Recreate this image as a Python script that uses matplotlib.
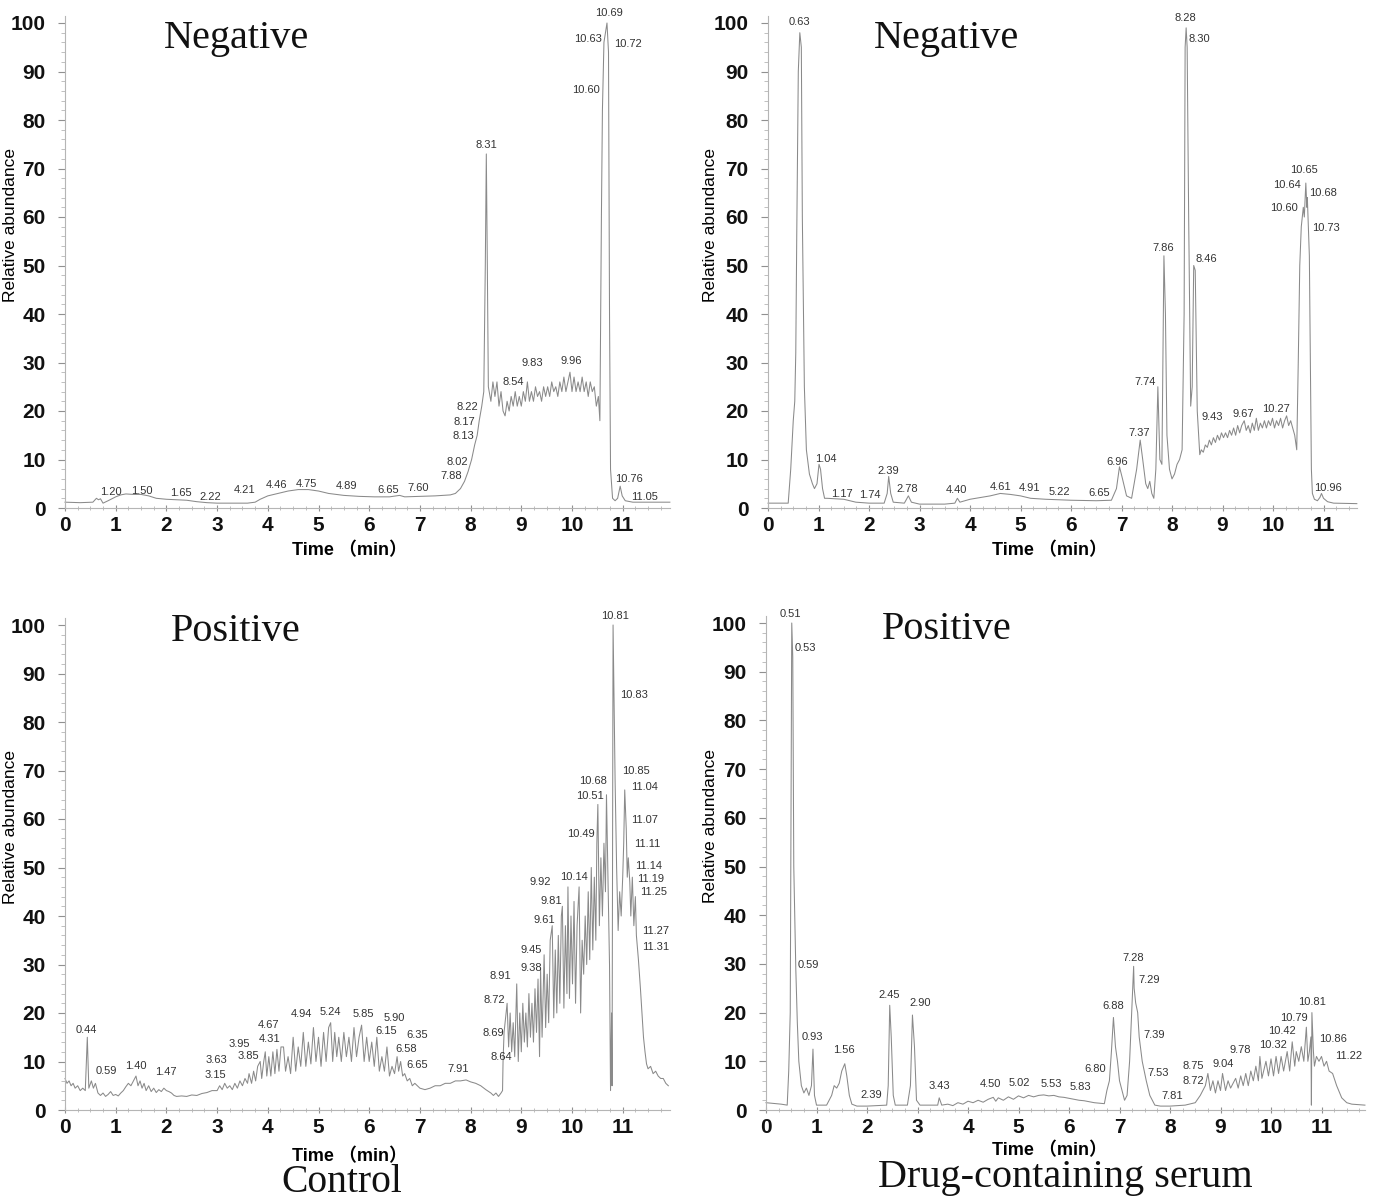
import matplotlib
matplotlib.use("Agg")
import matplotlib.pyplot as plt
from matplotlib.ticker import MultipleLocator
from matplotlib import font_manager

names = {f.name for f in font_manager.fontManager.ttflist}
NARROW = 'Liberation Sans Narrow' if 'Liberation Sans Narrow' in names else 'Liberation Sans'

# ---------------- Data: Control, negative mode ----------------
t_ctl_neg = [0.00, 0.30, 0.55, 0.62, 0.66, 0.70, 0.75, 0.85, 1.00, 1.10, 1.20, 1.35, 1.50, 1.65, 1.80,
             2.00, 2.20, 2.40, 2.60, 2.80, 3.00, 3.30, 3.60, 3.75, 3.85, 4.00, 4.20, 4.40, 4.60, 4.80,
             5.00, 5.20, 5.50, 5.80, 6.10, 6.40, 6.60, 6.70, 7.00, 7.30, 7.60, 7.70, 7.80, 7.88, 7.95,
             8.02, 8.08, 8.13, 8.17, 8.22, 8.26, 8.29, 8.31, 8.33, 8.35,
             8.40, 8.44, 8.48, 8.52, 8.56, 8.60, 8.64, 8.68, 8.72, 8.76, 8.80, 8.84, 8.88, 8.92, 8.96,
             9.00, 9.04, 9.08, 9.12, 9.16, 9.20, 9.24, 9.28, 9.32, 9.36, 9.40, 9.44, 9.48, 9.52, 9.56,
             9.60, 9.64, 9.68, 9.72, 9.76, 9.80, 9.84, 9.88, 9.92, 9.96, 10.00, 10.04, 10.08, 10.12,
             10.16, 10.20, 10.24, 10.28, 10.32, 10.36, 10.40, 10.44, 10.48, 10.52, 10.55, 10.58, 10.60,
             10.63, 10.66, 10.69, 10.71, 10.72, 10.74, 10.76, 10.80, 10.85, 10.90, 10.95, 10.99, 11.05,
             11.20, 11.93]
y_ctl_neg = [1.2, 1.1, 1.2, 2.0, 1.7, 1.9, 1.0, 1.5, 2.3, 2.7, 2.9, 2.8, 2.8, 2.5, 2.0,
             1.8, 1.7, 1.6, 1.3, 1.1, 1.0, 1.0, 1.0, 1.2, 1.8, 2.5, 3.0, 3.5, 3.8, 3.8,
             3.5, 3.0, 2.6, 2.4, 2.3, 2.3, 2.6, 2.3, 2.4, 2.5, 2.7, 3.0, 4.0, 5.5, 7.5,
             10.0, 13.0, 15.0, 18.0, 21.0, 24.0, 50.0, 73.0, 50.0, 25.0,
             22, 26, 23, 26, 21, 24, 20, 19, 22, 20, 23, 21, 24, 21, 23,
             21, 24, 22, 26, 22, 24, 22, 25, 23, 24, 22, 25, 23, 25, 23,
             26, 24, 25, 23, 26, 24, 27, 24, 26, 28, 24, 27, 24, 26,
             24, 27, 24, 26, 23, 26, 24, 25, 21, 23, 18, 60, 82,
             96, 98, 100, 96, 94, 40, 8, 2.0, 1.5, 2.0, 4.5, 2.5, 1.5,
             1.2, 1.2]
lbl_ctl_neg = ['1.20', '1.50', '1.65', '2.22', '4.21', '4.46', '4.75', '4.89', '6.65', '7.60', '7.88',
               '8.02', '8.13', '8.17', '8.22', '8.31', '8.54', '9.83', '9.96', '10.63', '10.69',
               '10.72', '10.60', '10.76', '11.05']
lx_ctl_neg = [0.91, 1.51, 2.28, 2.86, 3.55, 4.17, 4.77, 5.55, 6.37, 6.97, 7.61, 7.74, 7.85, 7.88, 7.93,
              8.32, 8.85, 9.22, 9.98, 10.31, 10.72, 11.10, 10.28, 11.13, 11.44]
ly_ctl_neg = [3.4, 3.6, 3.0, 2.3, 3.8, 4.8, 4.9, 4.6, 3.8, 4.2, 6.5, 9.5, 14.8, 17.7, 20.9, 74.9, 26.0,
              30.0, 30.4, 96.6, 102.0, 95.7, 86.2, 5.9, 2.2]

# ---------------- Data: Drug-containing serum, negative mode ----------------
t_drg_neg = [0.00, 0.30, 0.40, 0.45, 0.50, 0.53, 0.55, 0.57, 0.60, 0.63, 0.66, 0.68, 0.72, 0.76, 0.82,
             0.88, 0.92, 0.97, 1.01, 1.04, 1.08, 1.12, 1.17, 1.50, 1.74, 2.00, 2.30, 2.36, 2.39, 2.43,
             2.48, 2.70, 2.78, 2.84, 3.00, 3.50, 3.70, 3.75, 3.80, 4.00, 4.40, 4.60, 4.80, 5.00, 5.20,
             5.50, 6.00, 6.50, 6.80, 6.90, 6.96, 7.02, 7.10, 7.20, 7.30, 7.37, 7.42, 7.48, 7.52, 7.56,
             7.60, 7.64, 7.68, 7.72, 7.76, 7.80, 7.84, 7.87, 7.90, 7.95, 8.00, 8.05, 8.10, 8.15, 8.20,
             8.24, 8.26, 8.28, 8.30, 8.33, 8.37, 8.40, 8.43, 8.46, 8.50,
             8.55, 8.58, 8.62, 8.66, 8.70, 8.74, 8.78, 8.82, 8.86, 8.90, 8.94, 8.98, 9.02, 9.06, 9.10,
             9.14, 9.18, 9.22, 9.26, 9.30, 9.34, 9.38, 9.43, 9.47, 9.51, 9.55, 9.59, 9.63, 9.67, 9.71,
             9.75, 9.79, 9.83, 9.87, 9.91, 9.95, 9.99, 10.03, 10.07, 10.11, 10.15, 10.19, 10.23, 10.27,
             10.31, 10.35, 10.39, 10.43, 10.47, 10.50, 10.53, 10.56, 10.60, 10.62, 10.64, 10.65, 10.67,
             10.68, 10.70, 10.72, 10.74, 10.76, 10.78, 10.82, 10.88, 10.93, 10.96, 11.00, 11.08, 11.20,
             11.66]
y_drg_neg = [1.0, 1.0, 1.0, 8.0, 18.0, 22.0, 32.0, 57.0, 90.0, 98.0, 95.0, 60.0, 25.0, 12.0, 7.0,
             5.0, 4.0, 5.0, 9.0, 8.0, 4.0, 2.0, 2.0, 1.8, 1.2, 1.0, 1.0, 3.0, 6.5, 3.0,
             1.2, 1.0, 2.5, 1.2, 0.8, 0.8, 1.0, 2.0, 1.2, 1.8, 2.5, 3.0, 2.8, 2.5, 2.0,
             1.8, 1.6, 1.5, 1.6, 4.0, 8.5, 6.0, 2.5, 2.0, 8.0, 14.0, 10.0, 5.0, 4.0, 5.5,
             3.0, 2.0, 8.0, 25.0, 10.0, 9.0, 52.0, 40.0, 15.0, 8.0, 6.0, 7.0, 9.0, 10.0, 12.0,
             40.0, 95.0, 99.0, 95.0, 60.0, 21.0, 25.0, 50.0, 49.0, 20.0,
             11, 12, 11.5, 13, 12.5, 14, 13, 14.5, 13.5, 15, 14, 15.5, 14.5, 15.5, 14.5,
             16, 15, 16.5, 15, 17, 15.5, 17, 18, 16, 17, 15.5, 17.5, 16, 18.5, 16,
             17.5, 16.5, 18, 16.5, 18, 17, 18.5, 16.5, 18, 17, 18.5, 16.5, 18, 19,
             17, 18, 16.5, 15, 12, 30, 50, 58, 62, 60, 65, 67, 62,
             64, 58, 52, 30, 8, 3, 1.8, 1.5, 2.2, 3.0, 2.0, 1.3, 1.0,
             0.9]
lbl_drg_neg = ['0.63', '1.04', '1.17', '1.74', '2.39', '2.78', '4.40', '4.61', '4.91', '5.22', '6.65',
               '6.96', '7.37', '7.74', '7.86', '8.28', '8.30', '8.46', '9.43', '9.67', '10.27',
               '10.65', '10.64', '10.68', '10.60', '10.73', '10.96']
lx_drg_neg = [0.62, 1.15, 1.46, 2.02, 2.39, 2.76, 3.74, 4.60, 5.17, 5.77, 6.56, 6.92, 7.34, 7.47, 7.83,
              8.26, 8.54, 8.67, 8.80, 9.41, 10.05, 10.61, 10.27, 11.00, 10.22, 11.04, 11.08]
ly_drg_neg = [100.2, 10.0, 2.8, 2.6, 7.6, 3.9, 3.8, 4.3, 4.1, 3.2, 3.0, 9.4, 15.5, 25.9, 53.7, 101.0,
              96.7, 51.4, 18.8, 19.3, 20.4, 69.6, 66.6, 65.0, 61.8, 57.8, 4.1]

# ---------------- Data: Control, positive mode ----------------
t_ctl_pos = [0.00, 0.04, 0.08, 0.12, 0.16, 0.20, 0.25, 0.30, 0.35, 0.40, 0.44, 0.47, 0.52, 0.56, 0.60,
             0.65, 0.70, 0.75, 0.80, 0.85, 0.90, 0.95, 1.00, 1.05, 1.10, 1.15, 1.20, 1.25, 1.30, 1.35,
             1.40, 1.44, 1.48, 1.52, 1.56, 1.60, 1.65, 1.70, 1.75, 1.80, 1.85, 1.90, 1.95, 2.00, 2.05,
             2.10, 2.15, 2.20, 2.30, 2.40, 2.50, 2.60, 2.70, 2.80, 2.90,
             3.00, 3.05, 3.10, 3.15, 3.20, 3.25, 3.30, 3.35, 3.40, 3.45, 3.50, 3.55, 3.60, 3.63, 3.68,
             3.72, 3.76, 3.80, 3.85, 3.88, 3.92, 3.95, 3.98, 4.02, 4.06, 4.10, 4.14, 4.18, 4.22, 4.26,
             4.31, 4.35, 4.40, 4.45, 4.50, 4.55, 4.60, 4.65, 4.70, 4.75, 4.80, 4.85, 4.90, 4.95, 5.00,
             5.05, 5.10, 5.15, 5.20, 5.24, 5.28, 5.32, 5.36, 5.40, 5.45, 5.50, 5.55, 5.60, 5.65, 5.70,
             5.75, 5.80, 5.85, 5.90, 5.95, 6.00, 6.05, 6.10, 6.15, 6.20, 6.25, 6.30, 6.35, 6.40, 6.45,
             6.50, 6.55, 6.58, 6.62, 6.66, 6.70, 6.75, 6.80, 6.85, 6.90,
             7.00, 7.10, 7.20, 7.30, 7.40, 7.50, 7.60, 7.70, 7.80, 7.91, 8.00, 8.10, 8.20, 8.30, 8.40,
             8.45, 8.50, 8.55, 8.60, 8.63,
             8.64, 8.66, 8.69, 8.72, 8.75, 8.78, 8.81, 8.84, 8.87, 8.91, 8.94, 8.97, 9.00, 9.03, 9.06,
             9.09, 9.12, 9.15, 9.18, 9.21, 9.24, 9.27, 9.30, 9.33, 9.36, 9.38, 9.41, 9.45, 9.48, 9.51,
             9.54, 9.57, 9.61, 9.64, 9.67, 9.70, 9.73, 9.76, 9.79, 9.81, 9.84, 9.87, 9.90, 9.92, 9.95,
             9.98, 10.01, 10.04, 10.07, 10.10, 10.14, 10.17, 10.20, 10.23, 10.26, 10.29, 10.32, 10.35,
             10.38, 10.41, 10.44, 10.47, 10.49, 10.51, 10.54, 10.57, 10.60, 10.63, 10.66, 10.68, 10.71,
             10.74, 10.76, 10.78, 10.79, 10.81, 10.83, 10.85, 10.88, 10.91, 10.94, 10.97, 11.00, 11.02,
             11.04, 11.07, 11.09, 11.11, 11.14, 11.16, 11.19, 11.22, 11.25, 11.27, 11.31, 11.35, 11.38,
             11.41, 11.44, 11.47, 11.50, 11.55, 11.60, 11.65, 11.70, 11.75, 11.80, 11.85, 11.90]
y_ctl_pos = [6.5, 5.5, 6.0, 5.0, 5.5, 4.5, 5.0, 4.0, 4.5, 4.0, 15.0, 4.5, 6.0, 4.5, 5.5,
             3.5, 3.0, 3.5, 2.8, 3.2, 3.8, 3.0, 3.2, 2.9, 3.5, 4.0, 4.8, 5.5, 5.0, 6.0,
             7.0, 5.0, 6.0, 4.5, 5.5, 4.0, 5.0, 3.8, 4.5, 3.6, 4.2, 3.8, 4.5, 4.0, 3.8,
             3.5, 3.0, 2.8, 2.9, 2.8, 3.1, 3.0, 3.4, 3.6, 4.0,
             4.0, 5.0, 4.2, 5.5, 4.5, 5.0, 4.2, 5.5, 4.5, 6.0, 5.0, 6.5, 5.5, 7.5, 5.5,
             8.0, 6.0, 9.0, 10.0, 6.5, 10.0, 12.0, 7.0, 11.0, 7.0, 12.0, 7.5, 12.5, 8.0, 13.0,
             13.0, 8.0, 11.0, 7.5, 15.0, 8.0, 13.0, 9.0, 16.0, 9.0, 14.0, 9.5, 17.0, 10.0, 15.0,
             9.0, 16.0, 10.0, 17.0, 18.0, 10.0, 16.0, 11.0, 15.0, 10.0, 16.0, 11.0, 15.0, 10.0, 17.0,
             11.0, 15.0, 17.5, 10.0, 15.0, 10.0, 14.0, 9.0, 15.0, 8.0, 11.0, 8.0, 13.0, 7.0, 9.0,
             7.5, 11.0, 8.0, 10.0, 7.0, 7.5, 6.0, 6.5, 5.0, 5.5,
             4.5, 4.2, 4.5, 5.0, 5.0, 5.5, 5.5, 6.0, 6.0, 6.2, 5.8, 5.5, 5.0, 4.2, 3.5,
             3.0, 3.5, 2.8, 3.5, 4.0,
             10, 16, 19, 22, 13, 20, 12, 18, 11, 26, 10, 20, 12, 22, 14,
             20, 13, 24, 15, 22, 14, 25, 16, 27, 11, 29, 15, 32, 17, 28,
             18, 35, 38, 19, 33, 20, 36, 22, 40, 42, 21, 38, 24, 46, 23,
             40, 26, 43, 22, 38, 46, 20, 35, 28, 40, 30, 45, 31,
             50, 33, 48, 35, 55, 63, 38, 52, 40, 55, 45, 65, 48,
             30, 4, 20, 5, 100, 84, 68, 50, 37, 45, 40, 48, 55,
             66, 58, 48, 52, 47, 40, 48, 38, 44, 36, 31, 25, 20,
             15, 12, 9.5, 8.5, 9.0, 7.5, 8.0, 7.0, 6.5, 6.5, 5.5, 5.0]
lbl_ctl_pos = ['0.44', '0.59', '1.40', '1.47', '3.63', '3.15', '3.95', '3.85', '4.67', '4.31', '4.94',
               '5.24', '5.85', '5.90', '6.15', '6.35', '6.58', '6.65', '7.91', '8.64', '8.69', '8.72',
               '8.91', '9.38', '9.45', '9.61', '9.81', '9.92', '10.14', '10.49', '10.51', '10.68',
               '10.81', '10.83', '10.85', '11.04', '11.07', '11.11', '11.14', '11.19', '11.25',
               '11.27', '11.31']
lx_ctl_pos = [0.43, 0.82, 1.39, 1.99, 2.99, 2.97, 3.43, 3.62, 4.01, 4.03, 4.67, 5.24, 5.88, 6.50, 6.34,
              6.94, 6.72, 6.94, 7.76, 8.61, 8.44, 8.46, 8.59, 9.19, 9.19, 9.46, 9.59, 9.38, 10.04,
              10.17, 10.35, 10.41, 10.85, 11.22, 11.26, 11.43, 11.43, 11.48, 11.52, 11.56, 11.61,
              11.65, 11.65]
ly_ctl_pos = [16.5, 8.1, 9.0, 7.8, 10.4, 7.2, 13.7, 11.1, 17.6, 14.7, 19.8, 20.2, 19.8, 19.0, 16.3,
              15.5, 12.5, 9.3, 8.5, 11.0, 15.8, 22.7, 27.7, 29.3, 32.9, 39.2, 43.1, 47.1, 48.0, 56.9,
              64.7, 67.8, 101.8, 85.6, 69.8, 66.7, 59.8, 54.9, 50.4, 47.7, 44.9, 37.0, 33.6]

# ---------------- Data: Drug-containing serum, positive mode ----------------
t_drg_pos = [0.00, 0.30, 0.42, 0.45, 0.48, 0.51, 0.53, 0.55, 0.59, 0.62, 0.65, 0.70, 0.75, 0.80, 0.85,
             0.90, 0.93, 0.96, 1.00, 1.20, 1.30, 1.35, 1.40, 1.45, 1.50, 1.56, 1.60, 1.65, 1.70, 1.80,
             2.00, 2.39, 2.42, 2.45, 2.48, 2.52, 2.56, 2.80, 2.86, 2.90, 2.94, 2.98, 3.05, 3.40, 3.43,
             3.48, 3.60, 3.70, 3.80, 3.90, 4.00, 4.10, 4.20, 4.30, 4.40, 4.50, 4.55, 4.60, 4.70, 4.80,
             4.90, 5.00, 5.10, 5.20, 5.30, 5.40, 5.50, 5.60, 5.70, 5.80, 5.90, 6.00, 6.10, 6.20, 6.30,
             6.40, 6.50, 6.60, 6.70, 6.75, 6.80, 6.84, 6.88, 6.92, 6.96, 7.00, 7.05, 7.10, 7.15, 7.20,
             7.25, 7.28, 7.29, 7.32, 7.36, 7.39, 7.45, 7.53, 7.60, 7.70, 7.81, 8.00, 8.30, 8.50, 8.60,
             8.70, 8.72, 8.75, 8.80, 8.85, 8.90, 8.95, 9.00, 9.04, 9.10, 9.15, 9.20, 9.30, 9.35, 9.40,
             9.45, 9.50, 9.55, 9.60, 9.65, 9.70, 9.75, 9.78, 9.82, 9.90, 9.95, 10.00, 10.05, 10.10,
             10.15, 10.20, 10.25, 10.32, 10.37, 10.42, 10.47, 10.50, 10.55, 10.60, 10.65, 10.70, 10.73,
             10.76, 10.79, 10.80, 10.81, 10.84, 10.86, 10.90, 10.95, 11.00, 11.05, 11.10, 11.15, 11.22,
             11.30, 11.40, 11.50, 11.60, 11.86]
y_drg_pos = [1.5, 1.2, 1.0, 8.0, 20.0, 100.0, 93.0, 50.0, 29.0, 18.0, 10.0, 5.0, 3.5, 4.5, 3.0,
             5.0, 12.5, 3.0, 1.0, 1.0, 3.0, 5.0, 4.5, 5.5, 8.0, 9.5, 7.0, 3.0, 1.2, 0.8,
             0.8, 1.0, 5.0, 21.5, 15.0, 3.0, 1.0, 1.0, 5.0, 19.5, 13.0, 2.0, 1.0, 1.0, 2.5,
             1.0, 1.2, 0.9, 1.5, 1.2, 1.8, 1.5, 2.0, 1.6, 2.2, 2.6, 1.8, 2.5, 2.0, 2.7,
             2.2, 2.9, 2.5, 3.0, 2.7, 3.0, 3.1, 2.9, 3.0, 2.7, 2.6, 2.4, 2.2, 2.0, 1.9,
             1.7, 1.5, 1.4, 1.3, 4.0, 6.0, 12.0, 19.0, 13.0, 10.0, 6.0, 4.0, 2.0, 3.0, 10.0,
             22.0, 29.5, 25.0, 22.0, 20.0, 15.0, 10.0, 6.0, 3.0, 1.0, 0.8, 0.8, 1.0, 1.5, 3.0,
             5.0, 6.0, 7.5, 4.0, 6.0, 3.5, 6.0, 4.0, 7.5, 4.0, 6.0, 4.5, 6.5, 4.5, 7.0,
             5.0, 7.5, 5.0, 8.0, 6.0, 9.0, 6.0, 11.0, 6.5, 10.0, 7.0, 10.5, 7.0, 11.0,
             7.5, 11.0, 8.0, 12.0, 8.0, 14.0, 9.0, 12.0, 10.0, 13.0, 10.0, 17.0, 10.0,
             12.0, 15.0, 1.0, 20.0, 12.0, 9.0, 11.0, 10.0, 11.0, 9.0, 10.0, 8.0, 7.5,
             5.0, 2.5, 1.5, 1.2, 1.0]
lbl_drg_pos = ['0.51', '0.53', '0.59', '0.93', '1.56', '2.39', '2.45', '2.90', '3.43', '4.50', '5.02',
               '5.53', '5.83', '6.80', '6.88', '7.28', '7.29', '7.39', '7.53', '7.81', '8.75', '8.72',
               '9.04', '9.78', '10.32', '10.42', '10.79', '10.81', '10.86', '11.22']
lx_drg_pos = [0.48, 0.78, 0.84, 0.91, 1.55, 2.08, 2.44, 3.06, 3.43, 4.45, 5.01, 5.66, 6.23, 6.51, 6.88,
              7.28, 7.59, 7.68, 7.76, 8.04, 8.47, 8.47, 9.05, 9.40, 10.05, 10.22, 10.46, 10.82,
              11.23, 11.53]
ly_drg_pos = [101.9, 94.8, 29.8, 14.9, 12.3, 3.1, 23.6, 22.0, 4.9, 5.3, 5.5, 5.3, 4.7, 8.4, 21.4,
              31.3, 26.6, 15.3, 7.5, 2.9, 9.0, 6.0, 9.4, 12.3, 13.4, 16.3, 18.9, 22.2, 14.5, 11.0]

panel_titles = ['Negative', 'Negative', 'Positive', 'Positive']
group_names = ['Control', 'Drug-containing serum']

# ---------------- Figure ----------------
W, H = 1375, 1199
fig = plt.figure(figsize=(W / 100, H / 100), dpi=100)

def px_axes(x0, y0, xmax, ymax, pxx, pxy):
    w = xmax * pxx
    h = ymax * pxy
    return fig.add_axes([x0 / W, 1 - y0 / H, w / W, h / H]), x0, y0, w, h

LINE = '#8a8a8a'
panels = [
    (px_axes(65, 508, 11.93, 101.5, 50.7, 4.85), 11.93),
    (px_axes(768, 508, 11.66, 101.5, 50.5, 4.85), 11.66),
    (px_axes(65, 1110, 11.93, 101.5, 50.7, 4.85), 11.93),
    (px_axes(766, 1110, 11.86, 101.5, 50.5, 4.87), 11.86),
]
series = [
    (t_ctl_neg, y_ctl_neg, lbl_ctl_neg, lx_ctl_neg, ly_ctl_neg),
    (t_drg_neg, y_drg_neg, lbl_drg_neg, lx_drg_neg, ly_drg_neg),
    (t_ctl_pos, y_ctl_pos, lbl_ctl_pos, lx_ctl_pos, ly_ctl_pos),
    (t_drg_pos, y_drg_pos, lbl_drg_pos, lx_drg_pos, ly_drg_pos),
]
title_x = [3.39, 3.54, 3.37, 3.58]
title_y = [96.9, 96.9, 98.6, 98.6]
ylabel_px = [18, 718, 18, 718]
xlabel_px = [349, 1050, 349, 1050]
xlabel_top_py = [542, 542, 1148, 1142]

for i, (((ax, x0, y0px, wpx, hpx), xmax), (t, y, lbl, lx, ly)) in enumerate(zip(panels, series)):
    ax.plot(t, y, color=LINE, lw=0.75, clip_on=False)
    ax.set_xlim(0, xmax)
    ax.set_ylim(0, 101.5)
    for s in ['top', 'right']:
        ax.spines[s].set_visible(False)
    for s in ['left', 'bottom']:
        ax.spines[s].set_color('#b5b5b5')
        ax.spines[s].set_linewidth(0.8)
    ax.xaxis.set_major_locator(MultipleLocator(1))
    ax.xaxis.set_minor_locator(MultipleLocator(0.25))
    ax.yaxis.set_major_locator(MultipleLocator(10))
    ax.yaxis.set_minor_locator(MultipleLocator(2))
    ax.tick_params(axis='both', which='major', length=5, width=0.8, color='#909090',
                   labelsize=15)
    ax.tick_params(axis='y', which='major', pad=9)
    ax.tick_params(axis='x', which='major', pad=3)
    ax.tick_params(axis='both', which='minor', length=3, width=0.6, color='#b5b5b5')
    ax.tick_params(axis='y', which='both', direction='out')
    ax.tick_params(axis='x', which='both', direction='inout')
    for lab in ax.get_xticklabels() + ax.get_yticklabels():
        lab.set_fontfamily(NARROW)
        lab.set_fontweight('bold')
        lab.set_color('#111111')
    ax.set_ylabel('Relative abundance', family='Liberation Sans', fontsize=12.5)
    ax.yaxis.set_label_coords((ylabel_px[i] - x0) / wpx, 0.575)
    ax.set_xlabel('Time （min）', family=[NARROW, 'Noto Sans CJK SC'], fontsize=13,
                  fontweight='bold')
    ax.xaxis.set_label_coords((xlabel_px[i] - x0) / wpx, -(xlabel_top_py[i] - y0px) / hpx)
    ax.text(title_x[i], title_y[i], panel_titles[i], family='Liberation Serif', fontsize=29,
            ha='center', va='center', color='#111111')
    for s, xx, yy in zip(lbl, lx, ly):
        ax.text(xx, yy, s, family='Liberation Sans', fontsize=8, color='#333333',
                ha='center', va='center', clip_on=False)

fig.text(342 / W, 1 - 1182 / H, group_names[0], family='Liberation Serif', fontsize=28.5,
         ha='center', va='center', color='#111111')
fig.text(1065 / W, 1 - 1178 / H, group_names[1], family='Liberation Serif', fontsize=29,
         ha='center', va='center', color='#111111')

fig.savefig('out.png', dpi=100, facecolor='white')
